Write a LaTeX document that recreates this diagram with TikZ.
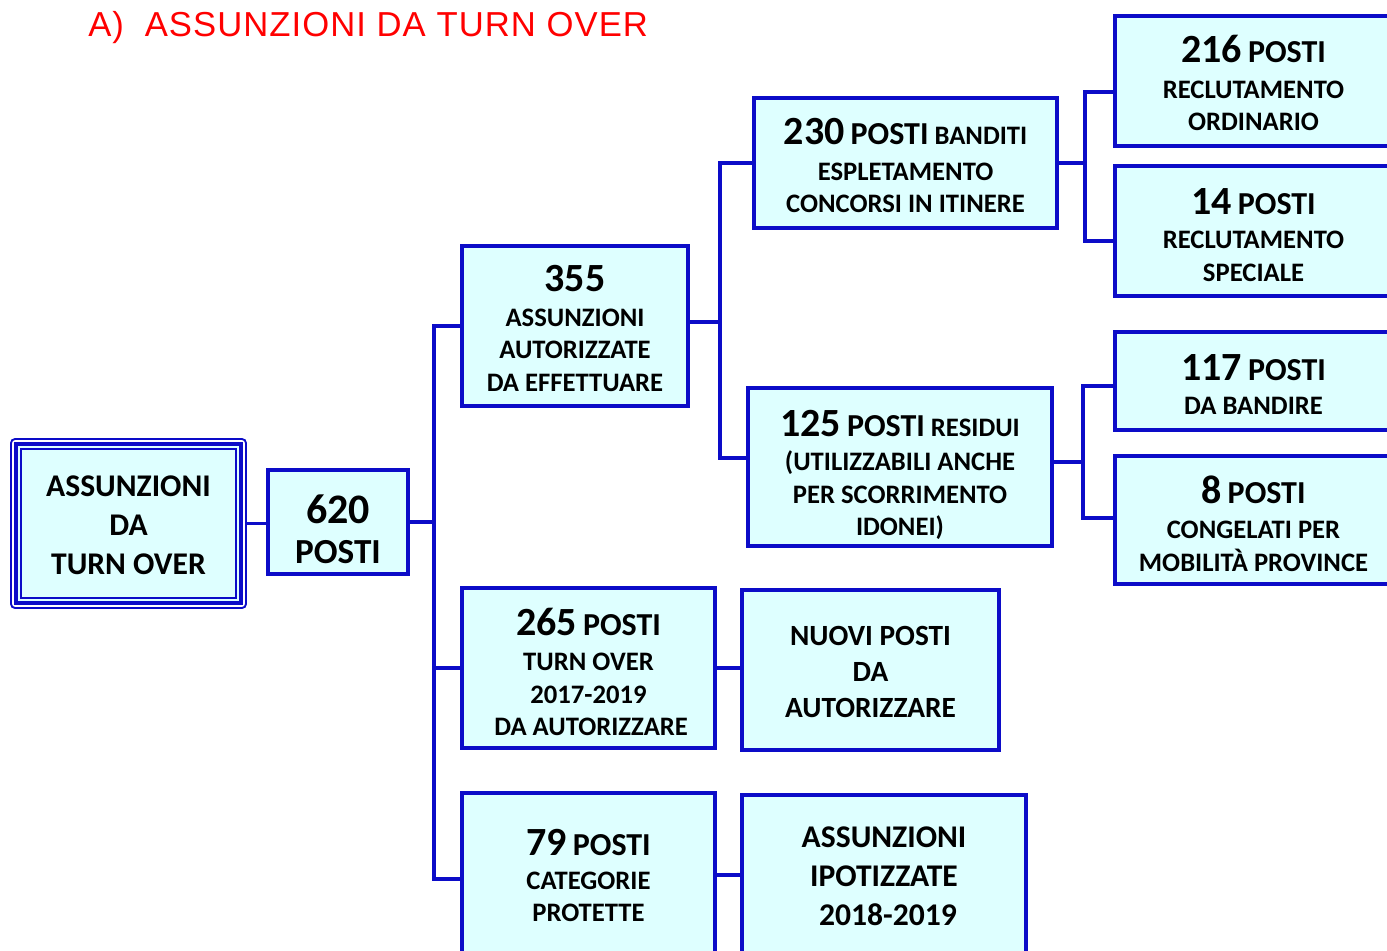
\documentclass[tikz,border=0pt]{standalone}
\usepackage{fontspec}
\setmainfont{Carlito}
\newfontfamily\titlefont[LetterSpace=3]{Liberation Sans}
\definecolor{bblue}{RGB}{12,12,200}
\definecolor{bfill}{RGB}{222,255,255}
\definecolor{tred}{RGB}{255,0,0}
\newcommand\szN{\fontsize{30}{30}\selectfont}
\newcommand\szP{\fontsize{24}{24}\selectfont}
\newcommand\szT{\fontsize{20}{24.4}\selectfont}
\newcommand\szM{\fontsize{23.7}{29.25}\selectfont}
\newcommand\szU{\fontsize{22}{27}\selectfont}
\begin{document}
\begin{tikzpicture}[x=0.75pt,y=-0.75pt,
  box/.style={draw=bblue, fill=bfill, line width=2.6pt, inner sep=0pt},
  txt/.style={inner sep=0pt, align=center, font=\bfseries\szT},
  conn/.style={draw=bblue, line width=2.3pt},
  thinframe/.style={draw=bblue, line width=1.4pt, inner sep=0pt},
]
\useasboundingbox (0,0) rectangle (1387,950);
\clip (0,0) rectangle (1387,950);

% title
\node[anchor=base west, text=tred, font=\titlefont\fontsize{26}{26}\selectfont, inner sep=0pt] (title) at (88,36) {A)\hspace{0.6em}ASSUNZIONI DA TURN OVER};

% main box (triple frame)
\node[thinframe, fill=white, rounded corners=3pt, minimum width=235*0.75pt, minimum height=169*0.75pt] (mainA) at (128.5,523.5) {};
\node[draw=bblue, fill=bfill, line width=3.3pt, inner sep=0pt, minimum width=225*0.75pt, minimum height=159*0.75pt] (mainB) at (128.5,523.5) {};
\node[thinframe, minimum width=215*0.75pt, minimum height=149*0.75pt] (main) at (128.5,523.5) {};
\node[txt, font=\bfseries\szM] (maint) at ([yshift=-1.5pt]main.center) {ASSUNZIONI\\DA\\TURN OVER};

% boxes
\node[box, minimum width=140*0.75pt, minimum height=104*0.75pt] (b620) at (338,522) {};
\node[txt] (b620t) at ([yshift=-5.25pt]b620.center) {{\fontsize{31.5}{31.5}\selectfont 620}\\[5.5pt]{\fontsize{26.4}{26.4}\selectfont POSTI}};

\node[box, minimum width=226*0.75pt, minimum height=160*0.75pt] (b355) at (575,326) {};
\node[txt] (b355t) at ([yshift=-2pt]b355.center) {{\szN 355}\\[1.5pt]ASSUNZIONI\\AUTORIZZATE\\DA EFFETTUARE};

\node[box, minimum width=303*0.75pt, minimum height=130*0.75pt] (b230) at (905.5,163) {};
\node[txt] (b230t) at ([yshift=-2pt]b230.center) {{\szN 230} {\szP POSTI} BANDITI\\[2.25pt]ESPLETAMENTO\\CONCORSI IN ITINERE};

\node[box, minimum width=304*0.75pt, minimum height=158*0.75pt] (b125) at (900,467) {};
\node[txt] (b125t) at ([yshift=-6pt]b125.center) {{\szN 125} {\szP POSTI} RESIDUI\\[1pt](UTILIZZABILI ANCHE\\PER SCORRIMENTO\\IDONEI)};

\node[box, minimum width=277*0.75pt, minimum height=130*0.75pt] (b216) at (1253.5,81) {};
\node[txt] (b216t) at ([yshift=-1.75pt]b216.center) {{\szN 216} {\szP POSTI}\\[2.25pt]RECLUTAMENTO\\ORDINARIO};

\node[box, minimum width=277*0.75pt, minimum height=130*0.75pt] (b14) at (1253.5,231) {};
\node[txt] (b14t) at ([yshift=-3pt]b14.center) {{\szN 14} {\szP POSTI}\\[1.5pt]RECLUTAMENTO\\SPECIALE};

\node[box, minimum width=277*0.75pt, minimum height=98*0.75pt] (b117) at (1253.5,381) {};
\node[txt] (b117t) at ([yshift=-2.6pt]b117.center) {{\szN 117} {\szP POSTI}\\[1.75pt]DA BANDIRE};

\node[box, minimum width=277*0.75pt, minimum height=128*0.75pt] (b8) at (1253.5,520) {};
\node[txt] (b8t) at ([yshift=-2.8pt]b8.center) {{\szN 8} {\szP POSTI}\\[2.25pt]CONGELATI PER\\MOBILITÀ PROVINCE};

\node[box, minimum width=253*0.75pt, minimum height=160*0.75pt] (b265) at (588.5,668) {};
\node[txt] (b265t) at ([yshift=-3pt]b265.center) {{\szN 265} {\szP POSTI}\\[2.25pt]TURN OVER\\2017-2019\\\kern4pt DA AUTORIZZARE};

\node[box, minimum width=257*0.75pt, minimum height=160*0.75pt] (bnuovi) at (870.5,670) {};
\node[txt, font=\bfseries\szU] (bnuovit) at ([yshift=-1.5pt]bnuovi.center) {NUOVI POSTI\\DA\\AUTORIZZARE};

\node[box, minimum width=253*0.75pt, minimum height=172*0.75pt] (b79) at (588.5,879) {};
\node[txt] (b79t) at ([yshift=2.7pt]b79.center) {{\szN 79} {\szP POSTI}\\[1pt]CATEGORIE\\PROTETTE};

\node[box, minimum width=284*0.75pt, minimum height=170*0.75pt] (bassun) at (884,880) {};
\node[txt, font=\bfseries\szM] (bassunt) at ([yshift=2.6pt]bassun.center) {ASSUNZIONI\\IPOTIZZATE\\\kern6pt 2018-2019};

% trunk coordinates
\coordinate (t1) at (434,0);
\coordinate (t2) at (720,0);
\coordinate (t3) at (1085,0);
\coordinate (t4) at (1083,0);
\coordinate (s125) at ([yshift=6.75pt]b125.west);
\coordinate (s216) at ([yshift=-8.25pt]b216.west);
\coordinate (s14) at ([yshift=-7.5pt]b14.west);
\coordinate (e125) at ([yshift=3.75pt]b125.east);
\coordinate (s117) at ([yshift=-3.75pt]b117.west);
\coordinate (s8) at ([yshift=1.5pt]b8.west);
\coordinate (e79) at ([yshift=3pt]b79.east);
\coordinate (e355) at ([yshift=3pt]b355.east);

% connectors
\draw[conn] (mainA.east) -- (mainA.east -| b620.west);
\draw[conn] (b620.east) -- (b620.east -| t1);
\draw[conn] (b355.west) -- (b355.west -| t1) -- (b79.west -| t1) -- (b79.west);
\draw[conn] (b265.west -| t1) -- (b265.west);
\draw[conn] (e355) -- (e355 -| t2);
\draw[conn] (b230.west) -- (b230.west -| t2) -- (s125 -| t2) -- (s125);
\draw[conn] (b230.east) -- (b230.east -| t3);
\draw[conn] (s216) -- (s216 -| t3) -- (s14 -| t3) -- (s14);
\draw[conn] (e125) -- (e125 -| t4);
\draw[conn] (s117) -- (s117 -| t4) -- (s8 -| t4) -- (s8);
\draw[conn] (b265.east) -- (b265.east -| bnuovi.west);
\draw[conn] (e79) -- (e79 -| bassun.west);
\end{tikzpicture}
\end{document}
